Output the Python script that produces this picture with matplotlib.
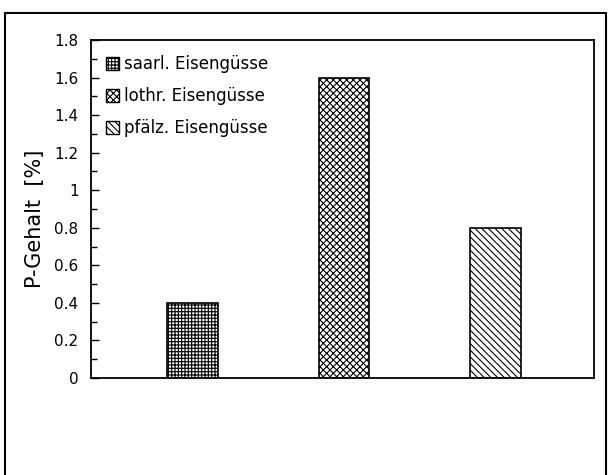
import matplotlib
matplotlib.use("Agg")
import matplotlib.pyplot as plt
from matplotlib.patches import Rectangle, Patch

labels = ["saarl. Eisengüsse", "lothr. Eisengüsse", "pfälz. Eisengüsse"]
values = [0.4, 1.6, 0.8]
hatches = ["+++++", "xxxxx", "\\\\\\\\\\"]
positions = [1, 2, 3]

plt.rcParams["font.family"] = "DejaVu Sans"
plt.rcParams["hatch.linewidth"] = 0.8

fig = plt.figure(figsize=(6.09, 4.75), dpi=100)
ax = fig.add_axes([0.1494, 0.2042, 0.826, 0.7116])

for x, v, h in zip(positions, values, hatches):
    ax.bar(x, v, width=0.335, color="white", edgecolor="black", hatch=h, linewidth=1.2)

ax.set_xlim(0.33, 3.65)
ax.set_ylim(0, 1.8)
ax.set_xticks([])
ax.set_yticks([0, 0.2, 0.4, 0.6, 0.8, 1, 1.2, 1.4, 1.6, 1.8])
ax.set_yticklabels(["0", "0.2", "0.4", "0.6", "0.8", "1", "1.2", "1.4", "1.6", "1.8"])
ax.set_yticks([0.1, 0.3, 0.5, 0.7, 0.9, 1.1, 1.3, 1.5, 1.7], minor=True)
ax.tick_params(axis="y", which="major", direction="in", length=6, width=1, labelsize=11, pad=9)
ax.tick_params(axis="y", which="minor", direction="in", length=4, width=1)
for s in ax.spines.values():
    s.set_linewidth(1.3)

ax.set_ylabel("P-Gehalt  [%]", fontsize=15)
# label sits a little below the axes centre in the original
ax.yaxis.set_label_coords(-0.092, 0.47)

handles = [Patch(facecolor="white", edgecolor="black", hatch=h) for h in hatches]
ax.legend(handles, labels, loc="upper left", frameon=False, fontsize=12,
          handlelength=0.8, handleheight=0.8, handletextpad=0.3,
          labelspacing=0.85, borderaxespad=0.5)

# outer frame around the whole drawing
fig.patches.append(Rectangle((5 / 609, -0.05), 601 / 609, 1.05 - 13 / 475,
                             transform=fig.transFigure, fill=False,
                             edgecolor="black", linewidth=1.5))

fig.savefig("out.png", dpi=100)
